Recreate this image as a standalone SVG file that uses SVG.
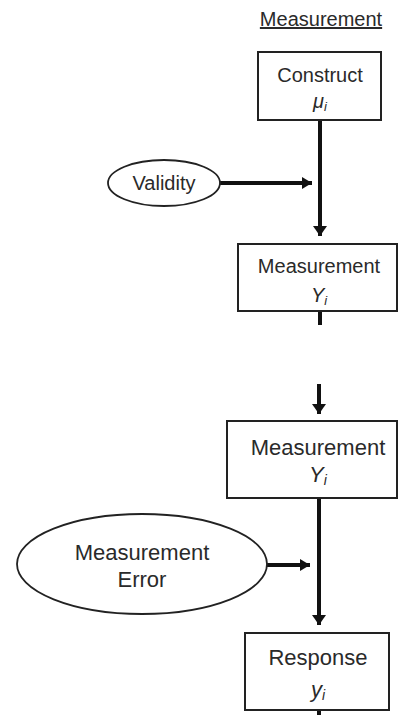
<svg xmlns="http://www.w3.org/2000/svg" width="398" height="715" viewBox="0 0 398 715">
<style>
.box{fill:#fff;stroke:#222;stroke-width:2}
.ell{fill:#fff;stroke:#222;stroke-width:1.8}
.t{font-family:"Liberation Sans",Arial,sans-serif;fill:#2a2a2a;text-anchor:middle}
.s20{font-size:20px}
.s22{font-size:22px}
.it{font-style:italic}
.c{stroke:#111;stroke-width:4;fill:none}
.ch{stroke:#111;stroke-width:4;fill:none}
</style>
<defs>
<marker id="av" viewBox="0 0 10 14" refX="10" refY="7" markerWidth="10" markerHeight="14" markerUnits="userSpaceOnUse" orient="auto">
<path d="M0,0 L10,7 L0,14 z" fill="#111"/>
</marker>
<marker id="ah" viewBox="0 0 10 12" refX="10" refY="6" markerWidth="10" markerHeight="12" markerUnits="userSpaceOnUse" orient="auto">
<path d="M0,0 L10,6 L0,12 z" fill="#111"/>
</marker>
</defs>
<text class="t s20" x="321" y="26" text-decoration="underline">Measurement</text>
<g id="connectors">
<line class="c" x1="320" y1="120" x2="320" y2="236" marker-end="url(#av)"/>
<line class="ch" x1="220" y1="183" x2="312" y2="183" marker-end="url(#ah)"/>
<line class="c" x1="320" y1="311" x2="320" y2="325"/>
<line class="c" x1="319" y1="384" x2="319" y2="414" marker-end="url(#av)"/>
<line class="c" x1="319" y1="498" x2="319" y2="625" marker-end="url(#av)"/>
<line class="ch" x1="267" y1="565" x2="310" y2="565" marker-end="url(#ah)"/>
<line class="c" x1="319" y1="710" x2="319" y2="715"/>
</g>
<g id="construct">
<rect class="box" x="258" y="52" width="123" height="68"/>
<text class="t s20" x="320" y="82">Construct</text>
<text class="t s20 it" x="320" y="108">μ<tspan font-size="13" dy="3">i</tspan></text>
</g>
<g id="validity">
<ellipse class="ell" cx="164" cy="183" rx="56" ry="23"/>
<text class="t s20" x="164" y="190">Validity</text>
</g>
<g id="measurement1">
<rect class="box" x="238" y="244" width="159" height="67"/>
<text class="t s20" x="319" y="273">Measurement</text>
<text class="t s20 it" x="319" y="302">Y<tspan font-size="13" dy="3">i</tspan></text>
</g>
<g id="measurement2">
<rect class="box" x="227" y="421" width="170" height="77"/>
<text class="t s22" x="318" y="455">Measurement</text>
<text class="t s22 it" x="318" y="482">Y<tspan font-size="14" dy="3">i</tspan></text>
</g>
<g id="measurement-error">
<ellipse class="ell" cx="142" cy="564" rx="125" ry="50"/>
<text class="t s22" x="142" y="560">Measurement</text>
<text class="t s22" x="142" y="587">Error</text>
</g>
<g id="response">
<rect class="box" x="245" y="633" width="144" height="77"/>
<text class="t s22" x="318" y="665">Response</text>
<text class="t s22 it" x="318" y="697">y<tspan font-size="14" dy="3">i</tspan></text>
</g>
</svg>
